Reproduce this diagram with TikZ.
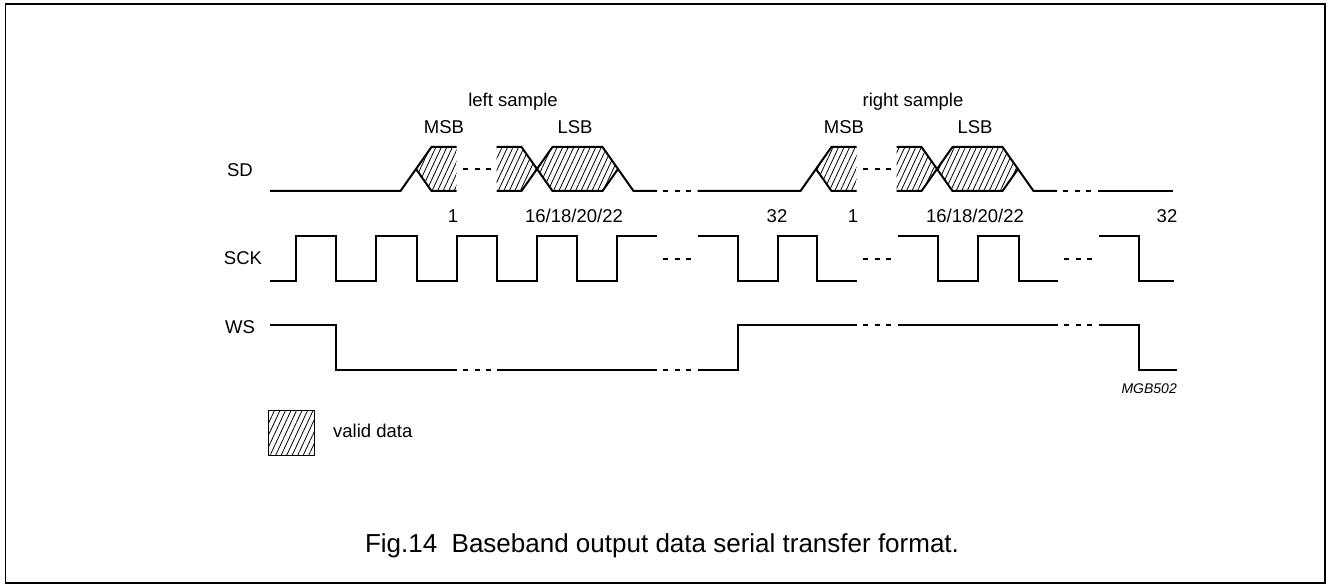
\documentclass[tikz,border=0pt]{standalone}
\usepackage{fontspec}
\setmainfont{Liberation Sans}
\usetikzlibrary{patterns.meta}

\tikzset{
  sig/.style={line width=2pt},
  brk/.style={line width=2pt, dash pattern=on 5pt off 6.5pt},
  valid/.style={pattern={Lines[angle=65,distance=5pt,line width=0.8pt]}},
  lbl/.style={font=\fontsize{18.5}{22}\selectfont, inner sep=0pt},
}

\begin{document}
\begin{tikzpicture}[x=1pt,y=-1pt]
\useasboundingbox (0,0) rectangle (1327,585);
\draw[line width=1.5pt] (5.5,4) rectangle (1325,583);

\node[lbl] (sd) at (240,170) {SD};
\node[lbl] (sck) at (243,258) {SCK};
\node[lbl] (ws) at (240,327) {WS};

\foreach \o/\s/\t in {0/270/left, 400/297.5/right}{
  \begin{scope}[xshift=\o pt]
  \fill[valid] (416,169) -- (431.5,147) -- (456.5,147) -- (456.5,191) -- (431.5,191) -- cycle;
  \fill[valid] (496.5,147) -- (521.5,147) -- (537,169) -- (521.5,191) -- (496.5,191) -- cycle;
  \fill[valid] (537,169) -- (552.5,147) -- (602.5,147) -- (618,169) -- (602.5,191) -- (552.5,191) -- cycle;
  \draw[sig] (\s,191) -- (400.5,191) -- (431.5,147) -- (456.5,147);
  \draw[sig] (416,169) -- (431.5,191) -- (456.5,191);
  \draw[brk] (463,169) -- (491,169);
  \draw[sig] (496.5,147) -- (521.5,147) -- (552.5,191) -- (602.5,191) -- (618,169);
  \draw[sig] (496.5,191) -- (521.5,191) -- (552.5,147) -- (602.5,147) -- (633.5,191) -- (657,191);
  \draw[brk] (663,191) -- (691,191);
  \node[lbl, anchor=base] (\t-smp) at (513,107) {\t\ sample};
  \node[lbl, anchor=base] (\t-msb) at (444,134) {MSB};
  \node[lbl, anchor=base] (\t-lsb) at (575,134) {LSB};
  \end{scope}
}
\draw[sig] (1097.5,191) -- (1173,191);

\draw[sig] (270,281) -- (296,281) \foreach \i in {1,...,4}{ -- ++(0,-44.5) -- ++(40.25,0) -- ++(0,44.5) -- ++(40,0)} -- ++(0,-44.5) -- ++(40,0);
\draw[brk] (663,258.75) -- (691,258.75);
\draw[sig] (698,236.5) -| (738,281) -| (777.5,236.5) -| (817,281) -- (857,281);
\draw[brk] (863,258.75) -- (891,258.75);
\draw[sig] (898,236.5) -| (938,281) -| (978,236.5) -| (1018.5,281) -- (1058,281);
\draw[brk] (1064,258.75) -- (1092,258.75);
\draw[sig] (1099,236.5) -| (1139,281) -- (1174,281);

\node[lbl, anchor=base] (n1a) at (453,223) {1};
\node[lbl, anchor=base] (n16a) at (574,223) {16/18/20/22};
\node[lbl, anchor=base] (n32a) at (777,223) {32};
\node[lbl, anchor=base] (n1b) at (853,223) {1};
\node[lbl, anchor=base] (n16b) at (975,223) {16/18/20/22};
\node[lbl, anchor=base] (n32b) at (1167,223) {32};

\draw[sig] (270,325) -| (336,370) -- (457,370);
\draw[brk] (463,370) -- (491,370);
\draw[sig] (497,370) -- (657,370);
\draw[brk] (663,370) -- (691,370);
\draw[sig] (698,370) -| (737.5,325) -- (857,325);
\draw[brk] (863,325) -- (891,325);
\draw[sig] (898,325) -- (1058,325);
\draw[brk] (1064,325) -- (1092,325);
\draw[sig] (1099,325) -| (1139,370) -- (1177,370);

\node[font=\fontsize{14}{16}\selectfont\itshape, anchor=base east, inner sep=0pt] (code) at (1177,393) {MGB502};

\draw[line width=1pt, valid] (268,410) rectangle (314,455);
\node[lbl, anchor=base west] (key) at (333,437) {valid data};

\node[font=\fontsize{26}{30}\selectfont, anchor=base, inner sep=0pt] (cap) at (662,552) {Fig.14\ \ Baseband output data serial transfer format.};
\end{tikzpicture}
\end{document}
